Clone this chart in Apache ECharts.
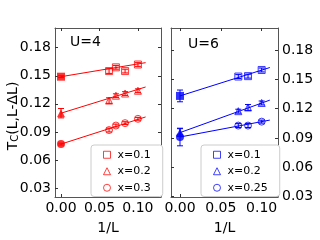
<!DOCTYPE html>
<html><head><meta charset="utf-8">
<script src="https://cdn.jsdelivr.net/npm/echarts@6/dist/echarts.min.js"></script>
<style>html,body{margin:0;padding:0;background:#fff}#c{width:320px;height:240px}</style>
</head><body><div id="c"></div>
<script>
// ---- data ----
const xTicks = [0.00, 0.05, 0.10];
const yTicks = [0.03, 0.06, 0.09, 0.12, 0.15, 0.18];
// U=4 panel
const u4X = [0.0625, 0.0714, 0.0833, 0.1];
const u4Names = ['x=0.1', 'x=0.2', 'x=0.3'];
const u4Open = [
  [0.155, 0.159, 0.155, 0.162],
  [0.1235, 0.1287, 0.131, 0.134],
  [0.092, 0.0968, 0.0994, 0.104]
];
const u4OpenErr = [
  [0.0025, 0.002, 0.002, 0.002],
  [0.003, 0.002, 0.002, 0.002],
  [0.002, 0.0015, 0.0015, 0.0015]
];
const u4Zero = [0.149, 0.110, 0.077];
const u4ZeroErr = [0.001, 0.005, 0.001];
const u4FitEnd = [0.164, 0.138, 0.106];
// U=6 panel
const u6X = [0.0714, 0.0833, 0.1];
const u6Names = ['x=0.1', 'x=0.2', 'x=0.25'];
const u6Open = [
  [0.1528, 0.1532, 0.1595],
  [0.1174, 0.1212, 0.1258],
  [0.1027, 0.1027, 0.1067]
];
const u6OpenErr = [
  [0.002, 0.002, 0.002],
  [0.002, 0.003, 0.002],
  [0.002, 0.002, 0.0015]
];
const u6Zero = [0.133, 0.0955, 0.091];
const u6ZeroErr = [0.006, 0.004, 0.009];
const u6FitEnd = [0.162, 0.1287, 0.1083];
const fitX = [0, 0.11];
const symbols = ['rect', 'triangle', 'circle'];
// ---- chart ----
const FONT = 'DejaVu Sans';
const frame = '#555';
function errSeries(xi, yi, xs, ys, es, color) {
  const d = xs.map((x, i) => [x, ys[i], es[i]]);
  return {
    type: 'custom', xAxisIndex: xi, yAxisIndex: yi, data: d, z: 3, silent: true,
    renderItem: function (params, api) {
      const x = api.value(0), y = api.value(1), e = api.value(2);
      const p1 = api.coord([x, y - e]), p2 = api.coord([x, y + e]);
      const w = 3;
      return { type: 'group', children: [
        { type: 'line', shape: { x1: p1[0], y1: p1[1], x2: p2[0], y2: p2[1] }, style: { stroke: color, lineWidth: 1 } },
        { type: 'line', shape: { x1: p1[0] - w, y1: p1[1], x2: p1[0] + w, y2: p1[1] }, style: { stroke: color, lineWidth: 1 } },
        { type: 'line', shape: { x1: p2[0] - w, y1: p2[1], x2: p2[0] + w, y2: p2[1] }, style: { stroke: color, lineWidth: 1 } }
      ]};
    }
  };
}
function panelSeries(xi, yi, xs, names, open, openErr, zero, zeroErr, fitEnd, color, fillOpen, prefix) {
  const out = [];
  for (let k = 0; k < 3; k++) {
    out.push({
      type: 'line', name: 'fit' + prefix + k, xAxisIndex: xi, yAxisIndex: yi,
      data: [[fitX[0], zero[k]], [fitX[1], fitEnd[k]]], showSymbol: false, symbol: 'none',
      lineStyle: { color: color, width: 1 }, z: 2, silent: true
    });
    out.push(errSeries(xi, yi, xs, open[k], openErr[k], color));
    out.push(errSeries(xi, yi, [0], [zero[k]], [zeroErr[k]], color));
    out.push({
      type: 'scatter', name: prefix + names[k], xAxisIndex: xi, yAxisIndex: yi,
      data: xs.map((x, i) => [x, open[k][i]]), symbol: symbols[k], symbolSize: 7,
      itemStyle: { color: fillOpen, borderColor: color, borderWidth: 1, opacity: 0.75 }, z: 4
    });
    out.push({
      type: 'scatter', name: 'zero' + prefix + k, xAxisIndex: xi, yAxisIndex: yi,
      data: [[0, zero[k]]], symbol: symbols[k], symbolSize: 8,
      itemStyle: { color: color }, z: 5
    });
  }
  return out;
}
function xAx(grid, min, max, pos, show) {
  return {
    type: 'value', gridIndex: grid, min: min, max: max, position: pos,
    axisLine: { show: true, onZero: false, lineStyle: { color: frame, width: 1 } },
    axisTick: { show: true, inside: true, length: 3, customValues: xTicks, lineStyle: { color: '#333' } },
    axisLabel: { show: show, customValues: xTicks, formatter: v => v.toFixed(2), margin: 4, color: '#000', fontSize: 14, fontFamily: FONT },
    splitLine: { show: false },
    name: show ? '1/L' : '', nameLocation: 'middle', nameGap: 24,
    nameTextStyle: { color: '#000', fontSize: 14, fontFamily: FONT }
  };
}
function yAx(grid, min, max, pos, show) {
  return {
    type: 'value', gridIndex: grid, min: min, max: max, position: pos,
    axisLine: { show: true, onZero: false, lineStyle: { color: frame, width: 1 } },
    axisTick: { show: true, inside: true, length: 3, customValues: yTicks, lineStyle: { color: '#333' } },
    axisLabel: { show: show, customValues: yTicks, formatter: v => v.toFixed(2), margin: 4, color: '#000', fontSize: 14, fontFamily: FONT },
    splitLine: { show: false }
  };
}
function legend(left, top, names, prefix, color) {
  return {
    left: left, top: top, orient: 'vertical',
    data: names.map((n, k) => ({ name: prefix + n, icon: symbols[k],
      itemStyle: { color: 'rgba(255,255,255,0)', borderColor: color, borderWidth: 1 } })),
    formatter: n => n.replace(prefix, ''),
    itemWidth: 7, itemHeight: 7, itemGap: 3,
    padding: [3, 12, 2, 12],
    borderColor: '#ccc', borderWidth: 1, borderRadius: 3, backgroundColor: '#fff',
    textStyle: { fontSize: 11, fontFamily: FONT, color: '#000', lineHeight: 13.5, padding: [0, 0, 0, 2] },
    selectedMode: false
  };
}
const chart = echarts.init(document.getElementById('c'), null, { renderer: 'canvas' });
chart.setOption({
  animation: false,
  backgroundColor: '#fff',
  grid: [
    { left: 55, top: 28, width: 106, height: 175 },
    { left: 171, top: 28, width: 107, height: 175 }
  ],
  xAxis: [
    xAx(0, -0.0078, 0.13, 'bottom', true),
    xAx(0, -0.0078, 0.13, 'top', false),
    xAx(1, -0.011, 0.12, 'bottom', true),
    xAx(1, -0.011, 0.12, 'top', false)
  ],
  yAxis: [
    yAx(0, 0.0205, 0.201, 'left', true),
    yAx(0, 0.0205, 0.201, 'right', false),
    yAx(1, 0.0297, 0.2024, 'left', false),
    yAx(1, 0.0297, 0.2024, 'right', true)
  ],
  legend: [
    legend(91, 145, u4Names, 'L', '#ff0000'),
    legend(201, 145, u6Names, 'R', '#0000ff')
  ],
  graphic: [
    { type: 'text', left: 70, top: 35, style: { text: 'U=4', fontSize: 14, fontFamily: FONT, fill: '#000' } },
    { type: 'text', left: 188, top: 37, style: { text: 'U=6', fontSize: 14, fontFamily: FONT, fill: '#000' } },
    { type: 'text', x: 12, y: 116, rotation: Math.PI / 2,
      style: { text: '{a|T}{b|C}{a|(L,L-ΔL)}', align: 'center', verticalAlign: 'middle',
        rich: { a: { fontSize: 14, fontFamily: FONT, fill: '#000', verticalAlign: 'bottom', lineHeight: 16 },
                b: { fontSize: 10, fontFamily: FONT, fill: '#000', verticalAlign: 'bottom', lineHeight: 13 } } } }
  ],
  series: [].concat(
    panelSeries(0, 0, u4X, u4Names, u4Open, u4OpenErr, u4Zero, u4ZeroErr, u4FitEnd, '#ff0000', 'rgba(255,0,0,0.12)', 'L'),
    panelSeries(2, 2, u6X, u6Names, u6Open, u6OpenErr, u6Zero, u6ZeroErr, u6FitEnd, '#0000ff', 'rgba(0,0,255,0.12)', 'R')
  )
});
</script></body></html>
